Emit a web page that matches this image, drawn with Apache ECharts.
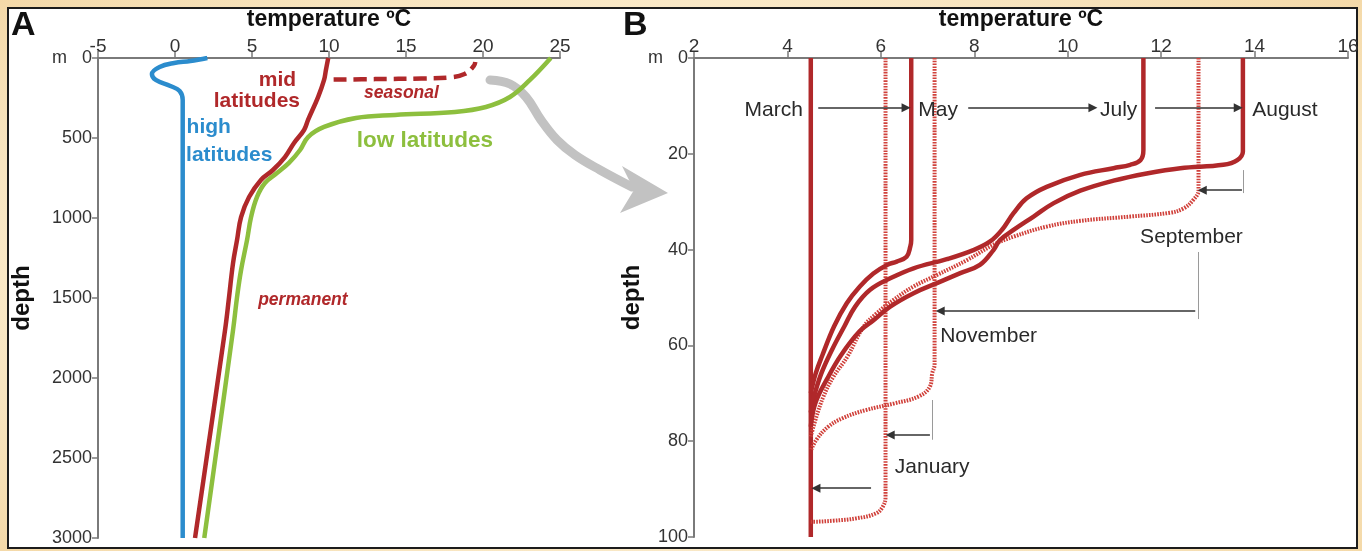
<!DOCTYPE html>
<html><head><meta charset="utf-8">
<script src="https://cdn.jsdelivr.net/npm/echarts@6/dist/echarts.min.js"></script>
<style>
html,body{margin:0;padding:0;width:1362px;height:551px;overflow:hidden;background:#F8E5C0;}
#frame{position:absolute;left:0;top:0;width:1362px;height:551px;background:radial-gradient(ellipse at center,#FDF6E6 0%,#F9E8C6 70%,#F4D9A8 100%);}
#panel{position:absolute;left:7px;top:7px;width:1347px;height:538px;background:#fff;border:2px solid #1c1c1c;}
#chart{position:absolute;left:0;top:0;width:1362px;height:551px;}
</style></head>
<body>
<div id="frame"></div><div id="panel"></div><div id="chart"></div>
<script>
// ---------- Panel A data (temperature degC, depth m) ----------
const tempTicksA = [-5, 0, 5, 10, 15, 20, 25];
const depthTicksA = [0, 500, 1000, 1500, 2000, 2500, 3000];
const highT = [2.1, 1.0, -0.05, -1.0, -1.5, -1.25, -0.3, 0.3, 0.5, 0.5];
const highD = [0, 19, 31, 56, 100, 137, 175, 206, 262, 3000];
const midT = [9.95, 9.8, 9.68, 9.29, 8.64, 8.38, 7.73, 7.14, 6.36, 5.58, 4.81, 4.29, 4.03, 3.77, 3.51, 3.25, 1.3];
const midD = [0, 75, 137, 244, 387, 450, 531, 619, 700, 762, 869, 994, 1137, 1281, 1494, 1700, 3000];
const lowT = [24.4, 23.05, 21.75, 20.19, 18.18, 14.29, 11.75, 9.68, 8.64, 8.12, 7.40, 6.62, 5.84, 5.32, 4.94, 4.68, 4.29, 4.03, 3.77, 1.9];
const lowD = [0, 137, 244, 306, 337, 356, 375, 431, 494, 575, 656, 719, 781, 869, 994, 1137, 1325, 1494, 1700, 3000];
const seasT = [10.3, 13, 16, 17.8, 18.8, 19.4, 19.5];
const seasD = [135, 132, 128, 122, 100, 50, 25];

// ---------- Panel B data (temperature degC, depth m) ----------
const tempTicksB = [2, 4, 6, 8, 10, 12, 14, 16];
const depthTicksB = [0, 20, 40, 60, 80, 100];
const marT = [4.5, 4.5];
const marD = [0, 100];
const mayT = [6.65, 6.65, 6.63, 6.55, 6.34, 6.13, 5.84, 5.55, 5.27, 5.0, 4.75, 4.6, 4.5];
const mayD = [0, 38, 39.4, 41.5, 42.5, 43.2, 45, 47.7, 51.2, 56, 62, 66, 70];
const julT = [11.62, 11.62, 11.56, 11.34, 10.98, 10.27, 9.55, 9.12, 8.84, 8.59, 8.34, 7.98, 7.41, 6.70, 6.20, 5.77, 5.45, 5.22, 4.95, 4.72, 4.56, 4.5];
const julD = [0, 19.2, 21.3, 22.3, 23.0, 24.4, 26.9, 29.3, 32.4, 35.9, 38.3, 40.1, 42.0, 43.9, 46.0, 48.4, 51.9, 56, 61, 66, 71, 74];
const augT = [13.75, 13.75, 13.63, 13.33, 12.41, 11.69, 10.98, 10.27, 9.70, 9.27, 8.84, 8.55, 8.41, 8.12, 7.70, 7.20, 6.70, 6.20, 5.85, 5.55, 5.15, 4.85, 4.6, 4.5];
const augD = [0, 19.5, 21.3, 22.3, 23.0, 24.1, 25.6, 27.7, 30.3, 33.1, 35.9, 38.0, 40.1, 43.2, 44.9, 47.0, 49.1, 51.9, 54.7, 57, 62, 67, 72, 77];
const sepT = [12.8, 12.8, 12.69, 12.48, 12.19, 11.34, 10.27, 9.55, 8.84, 8.41, 7.84, 7.20, 6.70, 6.27, 5.91, 5.63, 5.28, 4.98, 4.77, 4.62, 4.5];
const sepD = [0, 27.6, 29.6, 31.4, 32.3, 33.1, 34.0, 35.2, 37.3, 39.0, 42.2, 45.3, 47.7, 50.5, 53.3, 56.1, 62.4, 66.6, 70.7, 74.9, 79];
const novT = [7.15, 7.15, 7.10, 7.05, 6.80, 6.29, 5.68, 5.18, 4.87, 4.62, 4.5];
const novD = [0, 64, 65.8, 68.6, 70.7, 72.1, 73.5, 75.2, 77.0, 79.7, 82];
const janT = [6.1, 6.1, 6.04, 5.89, 5.48, 4.98, 4.57, 4.5];
const janD = [0, 91.6, 93.7, 95.1, 96.1, 96.6, 96.8, 96.8];

// month-to-month arrows in B: [fromT, toT, depth]
const arrowFromT = [4.66, 7.87, 11.87, 13.73, 12.73, 7.05, 5.79];
const arrowToT   = [6.54, 10.54, 13.65, 12.88, 7.27, 6.2, 4.61];
const arrowD     = [10.4, 10.4, 10.4, 27.6, 52.8, 78.7, 89.8];
// thin guide lines in B: [T, fromD, toD]
const guideT = [13.75, 12.8, 7.1];
const guideD0 = [23.4, 40.5, 71.4];
const guideD1 = [28.2, 54.5, 79.7];

// text annotations
const labelsA = ['mid', 'latitudes', 'seasonal', 'high', 'latitudes', 'low latitudes', 'permanent'];
const labelsAT = [7.86, 8.12, 12.27, 0.75, 0.72, 11.8, 5.4];
const labelsAD = [137, 269, 219, 431, 606, 519, 1512];
const labelsB = ['March', 'May', 'July', 'August', 'September', 'November', 'January'];
const labelsBT = [4.33, 6.8, 10.69, 13.95, 11.55, 7.27, 6.3];
const labelsBD = [10.8, 10.8, 10.8, 10.8, 37.4, 58, 85.4];

const zip = (a, b) => a.map((v, i) => [v, b[i]]);
const RED = '#B0282A', BLUE = '#2B8CCD', GREEN = '#8DBF3E', DRED = '#D0403A';
const FONT = "'Liberation Sans', Arial, Helvetica, sans-serif";

const chart = echarts.init(document.getElementById('chart'), null, {renderer: 'canvas'});

function xAx(idx, min, max, interval) {
  return {
    type: 'value', gridIndex: idx, position: 'top', min, max, interval,
    axisLine: {show: true, onZero: false, lineStyle: {color: '#7a7a7a', width: 2}},
    axisTick: {show: true, inside: false, length: 7, lineStyle: {color: '#7a7a7a', width: 1.5}},
    axisLabel: {fontSize: 19, color: '#333', margin: 2, fontFamily: FONT, showMinLabel: true, showMaxLabel: true},
    splitLine: {show: false},
    name: 'temperature ºC', nameLocation: 'middle', nameGap: 27,
    nameTextStyle: {fontSize: 23, fontWeight: 'bold', color: '#111', fontFamily: FONT}
  };
}
function yAx(idx, max, interval, gap) {
  return {
    type: 'value', gridIndex: idx, inverse: true, min: 0, max, interval,
    axisLine: {show: true, onZero: false, lineStyle: {color: '#7a7a7a', width: 2}},
    axisTick: {show: true, inside: false, length: 6, lineStyle: {color: '#7a7a7a', width: 1.5}},
    axisLabel: {fontSize: 18, color: '#333', margin: 6, fontFamily: FONT, showMinLabel: true, showMaxLabel: true,
      formatter: v => v === 0 ? 'm   0' : String(v)},
    splitLine: {show: false},
    name: 'depth', nameLocation: 'middle', nameRotate: 90, nameGap: gap,
    nameTextStyle: {fontSize: 24, fontWeight: 'bold', color: '#111', fontFamily: FONT}
  };
}
function curve(xi, T, D, color, width, type, smooth) {
  return {
    type: 'line', xAxisIndex: xi, yAxisIndex: xi, data: zip(T, D), showSymbol: false, symbol: 'none',
    smooth: smooth, silent: true, animation: false,
    lineStyle: {color, width, type: type || 'solid', cap: 'butt'}
  };
}
function textSeries(xi, names, T, D, styleFn) {
  return {
    type: 'scatter', xAxisIndex: xi, yAxisIndex: xi, symbolSize: 0, silent: true, animation: false,
    itemStyle: {opacity: 1},
    data: names.map((n, i) => ({value: [T[i], D[i]], label: Object.assign({formatter: n}, styleFn(i))})),
    label: {show: true, position: 'inside', verticalAlign: 'middle', fontFamily: FONT, opacity: 1},
    z: 10
  };
}

const annoStyleA = i => {
  const base = {fontSize: 21, fontWeight: 'bold', align: 'left'};
  if (i === 0 || i === 1) return Object.assign(base, {color: RED, align: 'right'});
  if (i === 2 || i === 6) return Object.assign(base, {color: RED, fontStyle: 'italic', fontSize: 17.5});
  if (i === 3 || i === 4) return Object.assign(base, {color: BLUE});
  return Object.assign(base, {color: GREEN, fontSize: 22.5});
};
const annoStyleB = i => ({fontSize: 21, color: '#2a2a2a', align: i === 0 ? 'right' : 'left'});

const arrowLines = arrowFromT.map((t, i) => ({coords: [[t, arrowD[i]], [arrowToT[i], arrowD[i]]]}));
const guideLines = guideT.map((t, i) => ({coords: [[t, guideD0[i]], [t, guideD1[i]]]}));

const option = {
  backgroundColor: 'transparent',
  animation: false,
  textStyle: {fontFamily: FONT},
  grid: [
    {left: 98, top: 58, width: 462, height: 480, outerBoundsMode: 'none', containLabel: false},
    {left: 694, top: 58, width: 654, height: 479, outerBoundsMode: 'none', containLabel: false}
  ],
  xAxis: [xAx(0, -5, 25, 5), xAx(1, 2, 16, 2)],
  yAxis: [yAx(0, 3000, 500, 64), yAx(1, 100, 20, 40)],
  series: [
    curve(0, highT, highD, BLUE, 4.5, 'solid', 0.4),
    curve(0, lowT, lowD, GREEN, 4.5, 'solid', 0.4),
    curve(0, midT, midD, RED, 4.5, 'solid', 0.4),
    curve(0, seasT, seasD, RED, 4.5, [13, 7], 0.4),
    curve(1, marT, marD, RED, 4.5, 'solid', false),
    curve(1, janT, janD, DRED, 4, [1.6, 1.2], 0.4),
    curve(1, novT, novD, DRED, 4, [1.6, 1.2], 0.4),
    curve(1, sepT, sepD, DRED, 4, [1.6, 1.2], 0.4),
    curve(1, mayT, mayD, RED, 4.5, 'solid', 0.4),
    curve(1, julT, julD, RED, 4.5, 'solid', 0.4),
    curve(1, augT, augD, RED, 4.5, 'solid', 0.4),
    {
      type: 'lines', coordinateSystem: 'cartesian2d', xAxisIndex: 1, yAxisIndex: 1, silent: true, animation: false,
      symbol: ['none', 'triangle'], symbolSize: [0, 9],
      lineStyle: {color: '#333', width: 1.6, opacity: 1}, data: arrowLines, z: 8
    },
    {
      type: 'lines', coordinateSystem: 'cartesian2d', xAxisIndex: 1, yAxisIndex: 1, silent: true, animation: false,
      symbol: ['none', 'none'], lineStyle: {color: '#9a9a9a', width: 1, opacity: 1}, data: guideLines, z: 7
    },
    textSeries(0, labelsA, labelsAT, labelsAD, annoStyleA),
    textSeries(1, labelsB, labelsBT, labelsBD, annoStyleB)
  ],
  graphic: [
    {type: 'text', left: 11, top: 9, style: {text: 'A', font: "bold 34px " + FONT, fill: '#111'}},
    {type: 'text', left: 623, top: 9, style: {text: 'B', font: "bold 34px " + FONT, fill: '#111'}},
    {type: 'polyline', z: 1, shape: {points: [[490, 80], [510, 84], [526, 97], [541, 120], [557, 140], [575, 155], [600, 170], [632, 187]], smooth: 0.4},
      style: {stroke: '#C2C2C2', lineWidth: 9, fill: null, lineCap: 'round'}},
    {type: 'polygon', z: 1, shape: {points: [[668, 193], [622, 166], [634, 190], [620, 213]]}, style: {fill: '#C2C2C2'}}
  ]
};
chart.setOption(option);
</script>
</body></html>
